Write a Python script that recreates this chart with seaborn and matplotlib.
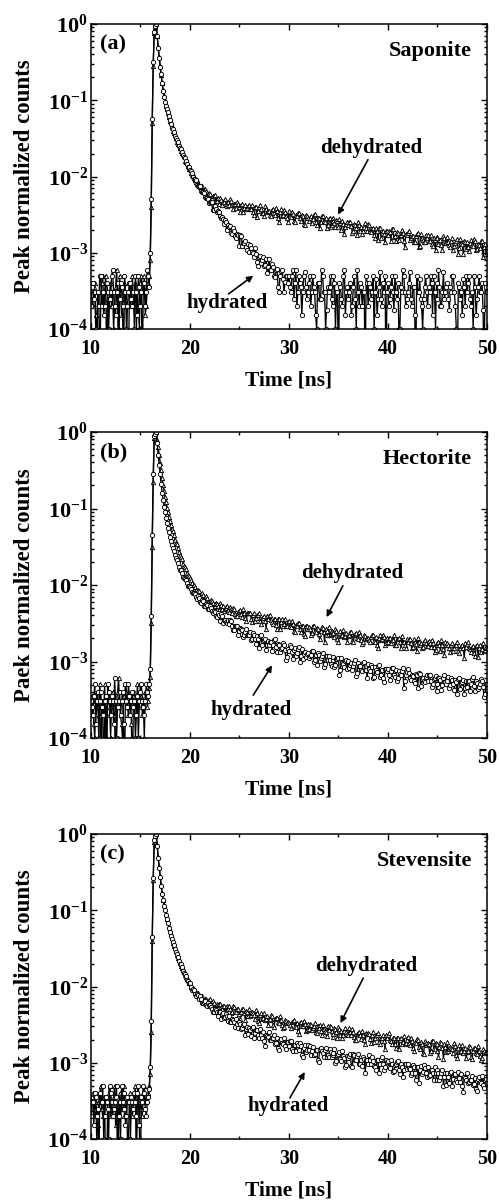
import numpy as np
import pandas as pd
import matplotlib
matplotlib.use("Agg")
import matplotlib.pyplot as plt
import seaborn as sns
from matplotlib.ticker import MultipleLocator, LogLocator, FuncFormatter, NullFormatter

# ------------- data: log10 of peak-normalized counts -------------
# even channels: 10.0, 10.2, ..., 50.0 ns ; odd channels: 10.1, 10.3, ..., 49.9 ns
TIME_EVEN = np.round(10 + 0.2 * np.arange(201), 1)
TIME_ODD = np.round(10.1 + 0.2 * np.arange(200), 1)

SAP_DEH = [
    -3.52, -3.70, -3.40, -4.00, -3.52, -3.70, -3.30, -3.52, -4.60, -3.70,
    -3.40, -3.52, -3.70, -3.22, -4.00, -3.52, -3.70, -3.40, -3.52, -4.60,
    -3.70, -3.30, -3.52, -4.00, -3.70, -3.40, -3.52, -3.30, -3.70, -3.40,
    -3.10, -1.30, -0.12, 0.00, -0.30, -0.55, -0.78, -0.95, -1.07, -1.17,
    -1.27, -1.34, -1.43, -1.49, -1.57, -1.62, -1.69, -1.73, -1.81, -1.85,
    -1.90, -1.98, -2.00, -2.07, -2.08, -2.14, -2.13, -2.20, -2.19, -2.25,
    -2.23, -2.28, -2.26, -2.32, -2.28, -2.28, -2.37, -2.33, -2.36, -2.33,
    -2.37, -2.32, -2.42, -2.36, -2.34, -2.40, -2.37, -2.46, -2.38, -2.41,
    -2.37, -2.42, -2.47, -2.40, -2.53, -2.40, -2.43, -2.48, -2.39, -2.47,
    -2.45, -2.52, -2.42, -2.50, -2.45, -2.60, -2.43, -2.50, -2.46, -2.55,
    -2.45, -2.53, -2.49, -2.59, -2.52, -2.48, -2.58, -2.52, -2.64, -2.52,
    -2.58, -2.52, -2.56, -2.49, -2.63, -2.55, -2.59, -2.52, -2.59, -2.67,
    -2.56, -2.66, -2.54, -2.61, -2.57, -2.66, -2.61, -2.58, -2.75, -2.62,
    -2.64, -2.60, -2.74, -2.62, -2.67, -2.59, -2.71, -2.75, -2.66, -2.68,
    -2.62, -2.71, -2.69, -2.77, -2.68, -2.83, -2.68, -2.74, -2.76, -2.72,
    -2.77, -2.73, -2.69, -2.79, -2.85, -2.74, -2.78, -2.70, -2.85, -2.75,
    -2.74, -2.83, -2.78, -2.86, -2.78, -2.74, -2.91, -2.81, -2.86, -2.77,
    -2.77, -2.84, -2.89, -2.81, -2.96, -2.80, -2.83, -2.90, -2.78, -2.87,
    -2.79, -2.90, -2.84, -2.96, -2.87, -2.82, -2.94, -2.87, -3.01, -2.86,
    -2.86, -2.98, -2.83, -2.91, -2.85, -2.95, -2.90, -2.85, -3.06, -2.89,
    -2.92,
]
SAP_DEH_ODD = [
    -3.60, -3.45, -3.82, -3.52, -4.60, -3.40, -3.70, -3.30, -3.60, -3.52,
    -3.70, -4.00, -3.45, -3.52, -3.30, -3.82, -3.52, -3.60, -4.60, -3.40,
    -3.52, -3.70, -3.40, -3.60, -4.00, -3.30, -3.52, -3.82, -3.45, -3.30,
    -2.40, -0.55, -0.04, -0.16, -0.43, -0.67, -0.87, -1.01, -1.12, -1.22,
    -1.29, -1.40, -1.45, -1.55, -1.58, -1.67, -1.70, -1.79, -1.82, -1.90,
    -1.95, -1.97, -2.05, -2.05, -2.13, -2.12, -2.19, -2.17, -2.25, -2.21,
    -2.28, -2.26, -2.24, -2.32, -2.36, -2.31, -2.34, -2.30, -2.39, -2.33,
    -2.30, -2.38, -2.36, -2.41, -2.36, -2.46, -2.36, -2.41, -2.42, -2.39,
    -2.42, -2.38, -2.51, -2.40, -2.45, -2.38, -2.48, -2.52, -2.43, -2.45,
    -2.50, -2.44, -2.48, -2.41, -2.55, -2.47, -2.52, -2.44, -2.52, -2.59,
    -2.52, -2.46, -2.58, -2.51, -2.48, -2.55, -2.51, -2.62, -2.51, -2.55,
    -2.54, -2.61, -2.51, -2.59, -2.54, -2.68, -2.52, -2.58, -2.55, -2.63,
    -2.55, -2.63, -2.58, -2.66, -2.58, -2.56, -2.70, -2.62, -2.66, -2.59,
    -2.59, -2.65, -2.71, -2.63, -2.77, -2.63, -2.66, -2.72, -2.61, -2.71,
    -2.63, -2.73, -2.68, -2.80, -2.71, -2.68, -2.80, -2.72, -2.86, -2.72,
    -2.72, -2.84, -2.69, -2.78, -2.73, -2.83, -2.77, -2.74, -2.92, -2.77,
    -2.71, -2.81, -2.78, -2.86, -2.76, -2.93, -2.76, -2.83, -2.86, -2.80,
    -2.85, -2.77, -2.91, -2.83, -2.79, -2.88, -2.83, -2.96, -2.81, -2.87,
    -2.86, -2.93, -2.81, -2.91, -2.85, -3.01, -2.82, -2.89, -2.84, -2.95,
    -2.93, -2.87, -2.90, -2.82, -2.97, -2.89, -2.94, -2.84, -2.92, -3.02,
]

SAP_HYD = [
    -3.70, -3.40, -3.52, -4.60, -3.70, -3.30, -3.52, -3.70, -3.40, -4.00,
    -3.52, -3.22, -3.70, -3.52, -4.60, -3.40, -3.70, -3.30, -4.00, -3.52,
    -3.40, -3.70, -4.00, -3.52, -3.30, -3.70, -4.60, -3.40, -3.52, -3.30,
    -3.00, -1.25, -0.10, 0.00, -0.31, -0.56, -0.77, -0.96, -1.08, -1.16,
    -1.26, -1.36, -1.42, -1.50, -1.55, -1.63, -1.68, -1.75, -1.79, -1.87,
    -1.92, -1.96, -2.03, -2.05, -2.12, -2.13, -2.20, -2.21, -2.28, -2.29,
    -2.34, -2.34, -2.44, -2.43, -2.45, -2.52, -2.53, -2.62, -2.59, -2.65,
    -2.66, -2.74, -2.68, -2.78, -2.75, -2.91, -2.78, -2.87, -2.85, -2.96,
    -2.99, -2.94, -3.00, -2.94, -3.12, -3.05, -3.13, -3.05, -3.16, -3.27,
    -3.08, -3.22, -3.19, -3.32, -3.21, -3.52, -3.24, -3.34, -3.38, -3.31,
    -3.30, -3.52, -3.22, -3.40, -3.70, -3.30, -3.45, -3.52, -3.25, -3.60,
    -3.40, -3.70, -3.30, -3.52, -4.00, -3.40, -3.60, -3.30, -3.52, -3.75,
    -3.52, -3.30, -3.70, -3.40, -3.52, -4.60, -3.45, -3.70, -3.22, -3.52,
    -3.60, -3.40, -3.70, -3.30, -4.00, -3.52, -3.40, -3.70, -3.52, -3.30,
    -3.70, -3.45, -3.52, -4.00, -3.35, -3.60, -3.25, -3.70, -3.52, -4.60,
    -3.40, -3.60, -3.30, -3.75, -3.52, -3.40, -4.00, -3.52, -3.30, -3.70,
    -3.52, -3.25, -3.70, -3.45, -4.60, -3.52, -3.35, -3.70, -3.60, -3.30,
    -3.70, -3.52, -3.40, -3.30, -4.00, -3.60, -3.45, -3.70, -3.25, -3.52,
    -3.40, -3.75, -3.52, -3.30, -3.70, -4.60, -3.45, -3.52, -3.35, -3.70,
    -3.52, -3.30, -3.70, -4.00, -3.45, -3.60, -3.30, -3.52, -3.75, -3.40,
    -3.52,
]
SAP_HYD_ODD = [
    -3.45, -3.60, -4.00, -3.52, -3.30, -3.70, -3.82, -3.40, -3.52, -3.60,
    -3.30, -3.52, -3.82, -3.40, -3.60, -3.45, -4.60, -3.52, -3.70, -3.40,
    -3.60, -3.52, -3.30, -3.82, -3.45, -3.52, -3.40, -3.70, -3.22, -3.45,
    -2.30, -0.50, -0.03, -0.16, -0.44, -0.66, -0.88, -1.02, -1.11, -1.21,
    -1.31, -1.38, -1.47, -1.52, -1.60, -1.64, -1.72, -1.76, -1.84, -1.88,
    -1.93, -2.01, -2.03, -2.11, -2.12, -2.19, -2.20, -2.27, -2.28, -2.35,
    -2.34, -2.44, -2.39, -2.46, -2.47, -2.55, -2.56, -2.57, -2.70, -2.64,
    -2.65, -2.75, -2.72, -2.81, -2.77, -2.77, -2.91, -2.87, -2.93, -2.88,
    -2.90, -2.99, -3.06, -3.01, -3.17, -3.04, -3.09, -3.17, -3.08, -3.19,
    -3.22, -3.15, -3.30, -3.22, -3.45, -3.30, -3.22, -3.52, -3.30, -3.40,
    -3.45, -3.30, -3.60, -3.22, -3.52, -3.40, -3.82, -3.30, -3.45, -3.52,
    -3.30, -3.52, -3.45, -3.82, -3.40, -3.60, -3.22, -3.52, -4.00, -3.45,
    -3.45, -3.60, -3.30, -4.00, -3.52, -3.40, -3.60, -3.30, -3.82, -3.45,
    -3.52, -3.82, -3.45, -3.60, -3.22, -3.70, -3.45, -3.52, -4.60, -3.40,
    -3.40, -3.60, -3.30, -3.52, -3.82, -3.45, -3.60, -3.40, -3.30, -3.52,
    -3.70, -3.45, -3.52, -3.30, -3.60, -4.00, -3.45, -3.22, -3.52, -3.60,
    -3.40, -3.60, -3.45, -3.82, -3.30, -3.52, -3.60, -4.00, -3.45, -3.52,
    -3.45, -3.30, -3.82, -3.52, -3.40, -3.22, -3.70, -3.52, -3.60, -3.45,
    -3.60, -3.45, -3.30, -3.52, -4.00, -3.40, -3.60, -3.82, -3.45, -3.30,
    -3.40, -3.60, -3.52, -3.30, -3.82, -3.45, -3.52, -3.40, -4.60, -3.45,
]

HEC_DEH = [
    -3.70, -3.52, -4.00, -3.40, -3.70, -4.60, -3.52, -3.30, -3.70, -3.52,
    -4.00, -3.40, -3.70, -3.52, -3.22, -3.70, -4.00, -3.52, -3.40, -3.70,
    -3.52, -4.60, -3.40, -3.70, -3.52, -3.30, -3.70, -4.00, -3.40, -3.52,
    -3.20, -1.50, -0.08, 0.00, -0.20, -0.40, -0.60, -0.77, -0.92, -1.05,
    -1.16, -1.27, -1.34, -1.45, -1.51, -1.61, -1.66, -1.75, -1.79, -1.87,
    -1.91, -1.98, -2.00, -2.06, -2.07, -2.13, -2.11, -2.18, -2.15, -2.22,
    -2.23, -2.21, -2.29, -2.23, -2.27, -2.24, -2.31, -2.34, -2.30, -2.32,
    -2.35, -2.32, -2.30, -2.38, -2.41, -2.34, -2.38, -2.32, -2.43, -2.36,
    -2.36, -2.44, -2.39, -2.47, -2.39, -2.37, -2.51, -2.43, -2.47, -2.40,
    -2.41, -2.46, -2.51, -2.45, -2.57, -2.45, -2.48, -2.53, -2.44, -2.53,
    -2.47, -2.55, -2.51, -2.61, -2.54, -2.50, -2.61, -2.54, -2.67, -2.54,
    -2.55, -2.65, -2.53, -2.60, -2.56, -2.64, -2.60, -2.56, -2.74, -2.60,
    -2.55, -2.64, -2.61, -2.68, -2.60, -2.74, -2.60, -2.65, -2.68, -2.63,
    -2.67, -2.61, -2.73, -2.66, -2.63, -2.70, -2.66, -2.77, -2.66, -2.70,
    -2.69, -2.75, -2.65, -2.73, -2.68, -2.82, -2.65, -2.71, -2.68, -2.76,
    -2.75, -2.69, -2.72, -2.66, -2.79, -2.71, -2.75, -2.67, -2.75, -2.82,
    -2.75, -2.70, -2.83, -2.71, -2.77, -2.69, -2.79, -2.82, -2.74, -2.76,
    -2.80, -2.76, -2.72, -2.81, -2.85, -2.76, -2.79, -2.72, -2.84, -2.75,
    -2.76, -2.83, -2.78, -2.86, -2.78, -2.74, -2.89, -2.80, -2.83, -2.76,
    -2.77, -2.82, -2.88, -2.80, -2.93, -2.79, -2.82, -2.87, -2.76, -2.85,
    -2.83,
]
HEC_DEH_ODD = [
    -3.45, -3.82, -3.52, -3.60, -3.30, -3.52, -3.70, -4.00, -3.45, -3.60,
    -3.52, -3.60, -4.60, -3.40, -3.52, -3.82, -3.45, -3.30, -3.60, -3.52,
    -3.82, -3.45, -3.52, -3.30, -3.60, -3.45, -3.52, -3.40, -3.60, -3.35,
    -2.50, -0.65, -0.03, -0.10, -0.30, -0.50, -0.69, -0.85, -0.99, -1.11,
    -1.22, -1.30, -1.41, -1.47, -1.57, -1.63, -1.72, -1.76, -1.84, -1.88,
    -1.94, -2.01, -2.02, -2.09, -2.08, -2.14, -2.13, -2.19, -2.17, -2.23,
    -2.20, -2.24, -2.27, -2.25, -2.33, -2.26, -2.28, -2.32, -2.27, -2.33,
    -2.29, -2.36, -2.32, -2.41, -2.35, -2.33, -2.42, -2.36, -2.47, -2.37,
    -2.37, -2.48, -2.36, -2.43, -2.39, -2.47, -2.43, -2.40, -2.57, -2.44,
    -2.39, -2.48, -2.45, -2.52, -2.45, -2.58, -2.45, -2.51, -2.53, -2.49,
    -2.54, -2.47, -2.60, -2.52, -2.50, -2.57, -2.53, -2.64, -2.53, -2.57,
    -2.57, -2.63, -2.54, -2.61, -2.57, -2.71, -2.55, -2.61, -2.58, -2.66,
    -2.65, -2.60, -2.63, -2.57, -2.70, -2.63, -2.67, -2.59, -2.67, -2.74,
    -2.66, -2.62, -2.75, -2.64, -2.69, -2.61, -2.72, -2.75, -2.67, -2.69,
    -2.72, -2.68, -2.65, -2.74, -2.78, -2.69, -2.72, -2.65, -2.78, -2.69,
    -2.69, -2.76, -2.72, -2.79, -2.71, -2.69, -2.82, -2.74, -2.78, -2.71,
    -2.71, -2.76, -2.81, -2.74, -2.86, -2.74, -2.76, -2.81, -2.72, -2.80,
    -2.73, -2.81, -2.76, -2.87, -2.79, -2.75, -2.86, -2.79, -2.91, -2.78,
    -2.78, -2.88, -2.76, -2.83, -2.78, -2.86, -2.82, -2.78, -2.95, -2.81,
    -2.75, -2.84, -2.81, -2.89, -2.80, -2.94, -2.79, -2.84, -2.86, -2.81,
]

HEC_HYD = [
    -3.52, -3.70, -3.30, -3.52, -4.00, -3.40, -3.70, -3.52, -4.60, -3.40,
    -3.70, -3.52, -3.22, -4.00, -3.52, -3.70, -3.40, -4.60, -3.52, -3.30,
    -3.70, -3.40, -3.52, -3.70, -4.00, -3.40, -3.52, -3.70, -3.30, -3.45,
    -3.10, -1.35, -0.05, 0.00, -0.30, -0.55, -0.80, -0.98, -1.12, -1.25,
    -1.37, -1.48, -1.55, -1.65, -1.71, -1.80, -1.84, -1.91, -1.94, -2.01,
    -2.03, -2.09, -2.10, -2.16, -2.15, -2.22, -2.20, -2.27, -2.25, -2.31,
    -2.27, -2.34, -2.34, -2.40, -2.37, -2.47, -2.41, -2.46, -2.49, -2.47,
    -2.51, -2.47, -2.59, -2.54, -2.53, -2.60, -2.58, -2.68, -2.61, -2.65,
    -2.65, -2.72, -2.63, -2.71, -2.67, -2.82, -2.66, -2.73, -2.70, -2.79,
    -2.79, -2.74, -2.78, -2.71, -2.87, -2.79, -2.84, -2.76, -2.85, -2.94,
    -2.86, -2.81, -2.97, -2.83, -2.89, -2.81, -2.93, -2.97, -2.88, -2.90,
    -2.95, -2.91, -2.86, -2.98, -3.04, -2.92, -2.96, -2.89, -3.03, -2.93,
    -2.93, -3.03, -2.98, -3.07, -2.97, -2.95, -3.11, -3.02, -3.07, -2.98,
    -2.99, -3.05, -3.11, -3.02, -3.19, -3.02, -3.06, -3.12, -3.00, -3.11,
    -3.03, -3.13, -3.07, -3.20, -3.11, -3.06, -3.20, -3.11, -3.27, -3.10,
    -3.10, -3.24, -3.08, -3.18, -3.11, -3.22, -3.16, -3.12, -3.34, -3.17,
    -3.10, -3.22, -3.18, -3.26, -3.16, -3.34, -3.16, -3.23, -3.26, -3.20,
    -3.26, -3.17, -3.33, -3.23, -3.19, -3.29, -3.22, -3.37, -3.22, -3.27,
    -3.26, -3.34, -3.21, -3.30, -3.24, -3.43, -3.21, -3.28, -3.24, -3.34,
    -3.33, -3.25, -3.29, -3.20, -3.38, -3.28, -3.33, -3.23, -3.33, -3.42,
    -3.30,
]
HEC_HYD_ODD = [
    -3.60, -3.45, -3.82, -3.40, -3.52, -3.60, -4.60, -3.45, -3.30, -3.52,
    -3.45, -3.82, -3.52, -3.60, -3.40, -3.52, -3.82, -3.30, -3.60, -3.45,
    -3.52, -3.60, -4.00, -3.45, -3.52, -3.30, -3.60, -3.52, -3.40, -3.30,
    -2.40, -0.55, -0.02, -0.14, -0.43, -0.68, -0.89, -1.05, -1.19, -1.31,
    -1.43, -1.51, -1.61, -1.67, -1.77, -1.81, -1.89, -1.92, -1.98, -2.01,
    -2.05, -2.11, -2.12, -2.18, -2.17, -2.23, -2.21, -2.28, -2.26, -2.32,
    -2.30, -2.37, -2.35, -2.42, -2.39, -2.38, -2.50, -2.46, -2.50, -2.46,
    -2.46, -2.53, -2.59, -2.54, -2.66, -2.56, -2.59, -2.66, -2.58, -2.66,
    -2.61, -2.70, -2.66, -2.77, -2.70, -2.67, -2.78, -2.72, -2.85, -2.73,
    -2.74, -2.86, -2.72, -2.81, -2.77, -2.87, -2.82, -2.79, -2.98, -2.84,
    -2.78, -2.88, -2.85, -2.93, -2.84, -3.00, -2.84, -2.90, -2.94, -2.89,
    -2.93, -2.86, -3.01, -2.92, -2.89, -2.99, -2.93, -3.07, -2.93, -2.98,
    -2.98, -3.06, -2.94, -3.04, -2.97, -3.17, -2.96, -3.03, -2.99, -3.10,
    -3.09, -3.02, -3.06, -2.98, -3.15, -3.06, -3.11, -3.02, -3.11, -3.21,
    -3.10, -3.05, -3.22, -3.07, -3.14, -3.04, -3.17, -3.22, -3.10, -3.13,
    -3.18, -3.13, -3.09, -3.20, -3.26, -3.13, -3.18, -3.09, -3.26, -3.14,
    -3.15, -3.24, -3.19, -3.28, -3.18, -3.15, -3.32, -3.22, -3.27, -3.18,
    -3.18, -3.25, -3.30, -3.21, -3.38, -3.21, -3.24, -3.31, -3.18, -3.29,
    -3.20, -3.31, -3.24, -3.37, -3.27, -3.23, -3.36, -3.27, -3.42, -3.25,
    -3.25, -3.39, -3.23, -3.32, -3.25, -3.36, -3.30, -3.25, -3.47, -3.29,
]

STE_DEH = [
    -3.52, -3.40, -3.70, -4.00, -3.52, -3.30, -3.70, -3.52, -4.60, -3.40,
    -3.70, -3.52, -3.30, -3.70, -4.00, -3.52, -3.40, -3.70, -3.52, -4.00,
    -3.40, -3.70, -3.52, -4.60, -3.40, -3.52, -3.70, -3.30, -3.52, -3.40,
    -3.15, -1.40, -0.10, 0.00, -0.30, -0.55, -0.78, -0.93, -1.05, -1.16,
    -1.27, -1.36, -1.47, -1.53, -1.63, -1.68, -1.76, -1.80, -1.88, -1.91,
    -1.96, -2.02, -2.04, -2.10, -2.09, -2.15, -2.13, -2.19, -2.16, -2.22,
    -2.17, -2.23, -2.21, -2.28, -2.24, -2.23, -2.29, -2.25, -2.34, -2.27,
    -2.26, -2.35, -2.26, -2.32, -2.29, -2.36, -2.33, -2.30, -2.44, -2.34,
    -2.29, -2.38, -2.35, -2.42, -2.35, -2.48, -2.35, -2.41, -2.44, -2.39,
    -2.44, -2.38, -2.50, -2.43, -2.41, -2.48, -2.44, -2.55, -2.44, -2.48,
    -2.48, -2.54, -2.45, -2.52, -2.48, -2.62, -2.46, -2.52, -2.49, -2.57,
    -2.56, -2.51, -2.54, -2.48, -2.61, -2.54, -2.58, -2.51, -2.58, -2.65,
    -2.57, -2.53, -2.66, -2.55, -2.60, -2.53, -2.63, -2.67, -2.58, -2.60,
    -2.63, -2.60, -2.56, -2.66, -2.70, -2.61, -2.64, -2.58, -2.70, -2.61,
    -2.61, -2.69, -2.64, -2.73, -2.64, -2.61, -2.76, -2.68, -2.71, -2.64,
    -2.64, -2.70, -2.75, -2.68, -2.81, -2.68, -2.70, -2.76, -2.65, -2.74,
    -2.66, -2.77, -2.71, -2.84, -2.74, -2.70, -2.82, -2.75, -2.89, -2.74,
    -2.74, -2.87, -2.71, -2.80, -2.74, -2.84, -2.79, -2.74, -2.95, -2.79,
    -2.73, -2.82, -2.80, -2.87, -2.78, -2.94, -2.77, -2.84, -2.87, -2.81,
    -2.86, -2.78, -2.92, -2.84, -2.80, -2.89, -2.84, -2.97, -2.82, -2.87,
    -2.86,
]
STE_DEH_ODD = [
    -3.45, -3.60, -3.52, -3.82, -3.40, -3.60, -3.45, -4.60, -3.52, -3.30,
    -3.60, -3.45, -3.82, -3.52, -3.40, -3.60, -3.30, -3.52, -4.00, -3.45,
    -3.60, -3.52, -3.30, -3.45, -3.82, -3.60, -3.40, -3.52, -3.45, -3.30,
    -2.60, -0.60, -0.03, -0.15, -0.43, -0.67, -0.86, -0.99, -1.11, -1.22,
    -1.31, -1.43, -1.49, -1.59, -1.65, -1.73, -1.77, -1.85, -1.89, -1.96,
    -2.00, -2.02, -2.09, -2.08, -2.14, -2.12, -2.18, -2.16, -2.21, -2.18,
    -2.22, -2.19, -2.27, -2.23, -2.23, -2.27, -2.25, -2.32, -2.26, -2.29,
    -2.29, -2.34, -2.27, -2.33, -2.29, -2.42, -2.29, -2.35, -2.32, -2.39,
    -2.39, -2.34, -2.38, -2.31, -2.45, -2.38, -2.42, -2.35, -2.43, -2.51,
    -2.43, -2.39, -2.53, -2.41, -2.47, -2.39, -2.50, -2.53, -2.45, -2.47,
    -2.51, -2.47, -2.44, -2.53, -2.58, -2.48, -2.52, -2.45, -2.58, -2.49,
    -2.49, -2.57, -2.52, -2.60, -2.52, -2.50, -2.63, -2.56, -2.59, -2.52,
    -2.52, -2.58, -2.62, -2.56, -2.68, -2.56, -2.58, -2.64, -2.54, -2.62,
    -2.55, -2.64, -2.59, -2.70, -2.62, -2.59, -2.69, -2.63, -2.75, -2.62,
    -2.62, -2.74, -2.59, -2.68, -2.63, -2.73, -2.67, -2.64, -2.82, -2.67,
    -2.61, -2.71, -2.68, -2.76, -2.67, -2.82, -2.67, -2.73, -2.75, -2.70,
    -2.74, -2.67, -2.81, -2.73, -2.69, -2.79, -2.73, -2.87, -2.72, -2.77,
    -2.76, -2.84, -2.72, -2.82, -2.76, -2.92, -2.73, -2.80, -2.75, -2.86,
    -2.85, -2.79, -2.82, -2.74, -2.90, -2.81, -2.86, -2.77, -2.85, -2.94,
    -2.85, -2.79, -2.95, -2.81, -2.87, -2.78, -2.91, -2.94, -2.84, -2.86,
]

STE_HYD = [
    -3.70, -3.52, -3.40, -3.70, -4.60, -3.52, -3.30, -3.70, -3.52, -4.00,
    -3.40, -3.70, -3.52, -3.30, -3.70, -4.00, -3.52, -3.40, -3.70, -3.52,
    -4.00, -3.52, -3.40, -3.70, -3.30, -4.60, -3.52, -3.40, -3.70, -3.45,
    -3.05, -1.35, -0.08, 0.00, -0.31, -0.56, -0.79, -0.94, -1.06, -1.17,
    -1.28, -1.38, -1.45, -1.55, -1.61, -1.70, -1.74, -1.82, -1.86, -1.93,
    -1.96, -2.04, -2.05, -2.12, -2.11, -2.12, -2.22, -2.20, -2.24, -2.22,
    -2.24, -2.29, -2.33, -2.31, -2.39, -2.33, -2.36, -2.41, -2.36, -2.43,
    -2.39, -2.47, -2.44, -2.53, -2.49, -2.47, -2.56, -2.51, -2.63, -2.53,
    -2.54, -2.65, -2.53, -2.61, -2.57, -2.67, -2.63, -2.60, -2.78, -2.65,
    -2.60, -2.70, -2.68, -2.76, -2.68, -2.83, -2.69, -2.75, -2.78, -2.73,
    -2.78, -2.71, -2.85, -2.77, -2.74, -2.83, -2.78, -2.92, -2.77, -2.83,
    -2.83, -2.90, -2.79, -2.88, -2.83, -2.99, -2.80, -2.87, -2.83, -2.93,
    -2.93, -2.86, -2.90, -2.82, -2.98, -2.89, -2.95, -2.85, -2.94, -3.03,
    -2.94, -2.88, -3.05, -2.90, -2.97, -2.88, -3.01, -3.04, -2.95, -2.97,
    -3.02, -2.97, -2.93, -3.04, -3.10, -2.97, -3.01, -2.93, -3.09, -2.97,
    -2.98, -3.07, -3.02, -3.11, -3.01, -2.98, -3.15, -3.05, -3.10, -3.01,
    -3.02, -3.08, -3.14, -3.05, -3.22, -3.05, -3.09, -3.15, -3.03, -3.14,
    -3.06, -3.16, -3.10, -3.23, -3.14, -3.09, -3.23, -3.14, -3.30, -3.13,
    -3.14, -3.27, -3.12, -3.21, -3.15, -3.25, -3.20, -3.15, -3.38, -3.20,
    -3.14, -3.25, -3.22, -3.29, -3.20, -3.37, -3.19, -3.26, -3.29, -3.22,
    -3.26,
]
STE_HYD_ODD = [
    -3.52, -3.82, -3.45, -3.60, -3.40, -3.52, -4.00, -3.45, -3.60, -3.30,
    -3.52, -3.60, -3.45, -4.60, -3.52, -3.30, -3.60, -3.82, -3.45, -3.52,
    -3.45, -3.60, -3.52, -3.40, -3.82, -3.45, -3.30, -3.60, -3.52, -3.35,
    -2.45, -0.58, -0.03, -0.16, -0.44, -0.68, -0.87, -1.00, -1.12, -1.23,
    -1.34, -1.41, -1.51, -1.57, -1.67, -1.71, -1.79, -1.83, -1.91, -1.95,
    -2.01, -2.03, -2.10, -2.10, -2.16, -2.16, -2.21, -2.19, -2.26, -2.24,
    -2.27, -2.33, -2.29, -2.34, -2.33, -2.43, -2.35, -2.40, -2.39, -2.45,
    -2.47, -2.43, -2.47, -2.43, -2.55, -2.49, -2.54, -2.49, -2.56, -2.62,
    -2.57, -2.54, -2.68, -2.57, -2.63, -2.56, -2.67, -2.71, -2.63, -2.66,
    -2.70, -2.67, -2.63, -2.74, -2.80, -2.70, -2.74, -2.67, -2.82, -2.73,
    -2.72, -2.82, -2.77, -2.85, -2.77, -2.74, -2.90, -2.81, -2.86, -2.77,
    -2.78, -2.85, -2.90, -2.83, -2.97, -2.82, -2.85, -2.92, -2.80, -2.90,
    -2.82, -2.93, -2.87, -3.00, -2.90, -2.86, -2.98, -2.91, -3.05, -2.91,
    -2.91, -3.04, -2.88, -2.97, -2.91, -3.02, -2.96, -2.92, -3.13, -2.97,
    -2.90, -3.02, -2.98, -3.05, -2.96, -3.13, -2.95, -3.02, -3.05, -2.99,
    -3.05, -2.97, -3.12, -3.03, -2.99, -3.09, -3.02, -3.18, -3.02, -3.08,
    -3.07, -3.16, -3.03, -3.13, -3.06, -3.26, -3.04, -3.12, -3.07, -3.18,
    -3.17, -3.10, -3.14, -3.06, -3.23, -3.14, -3.19, -3.10, -3.19, -3.29,
    -3.18, -3.13, -3.30, -3.15, -3.22, -3.12, -3.25, -3.30, -3.18, -3.22,
    -3.26, -3.22, -3.17, -3.28, -3.34, -3.21, -3.25, -3.17, -3.33, -3.21,
]

PANEL_TAGS = ["(a)", "(b)", "(c)"]
SAMPLES = ["Saponite", "Hectorite", "Stevensite"]
YLABELS = ["Peak normalized counts", "Paek normalized counts", "Peak normalized counts"]
SERIES_LABELS = ["dehydrated", "hydrated"]

# ---------------- styling ----------------
sns.set_theme(style="ticks")
plt.rcParams.update({
    "font.family": ["Liberation Serif", "DejaVu Serif"],
    "font.weight": "bold",
    "axes.labelweight": "bold",
    "mathtext.fontset": "custom",
    "mathtext.rm": "Liberation Serif:bold",
    "mathtext.bf": "Liberation Serif:bold",
    "mathtext.it": "Liberation Serif:bold:italic",
    "axes.edgecolor": "black",
    "axes.linewidth": 1.1,
    "xtick.color": "black",
    "ytick.color": "black",
    "text.color": "black",
    "axes.labelcolor": "black",
})

fig = plt.figure(figsize=(4.99, 12.0), dpi=100)
positions = [
    [0.182, 0.7258, 0.794, 0.2542],
    [0.182, 0.3850, 0.794, 0.2550],
    [0.182, 0.0508, 0.794, 0.2542],
]

# annotation layout: (text_x, text_logy, start_x, start_logy, tip_x, tip_logy)
ANNOT = [
    [(38.3, -1.63, 37.98, -1.78, 34.95, -2.50), (23.8, -3.66, 23.9, -3.54, 26.4, -3.30)],
    [(36.4, -1.84, 35.45, -2.01, 33.8, -2.42), (26.2, -3.63, 26.4, -3.44, 28.3, -3.05)],
    [(37.8, -1.73, 37.5, -1.89, 35.2, -2.48), (29.9, -3.57, 30.1, -3.46, 31.6, -3.12)],
]

data = [
    ((SAP_DEH, SAP_DEH_ODD), (SAP_HYD, SAP_HYD_ODD)),
    ((HEC_DEH, HEC_DEH_ODD), (HEC_HYD, HEC_HYD_ODD)),
    ((STE_DEH, STE_DEH_ODD), (STE_HYD, STE_HYD_ODD)),
]

for k in range(3):
    ax = fig.add_axes(positions[k])
    ax.set_yscale("log")
    for (even, odd), s, mk in zip(data[k], SERIES_LABELS, ["^", "o"]):
        sub = pd.DataFrame({
            "t": np.concatenate([TIME_EVEN, TIME_ODD]),
            "logy": np.concatenate([even, odd]),
        }).sort_values("t")
        sub["y"] = np.power(10.0, sub["logy"])
        sns.lineplot(data=sub, x="t", y="y", ax=ax, color="black", lw=0.95,
                     marker=mk, markersize=3.1, markerfacecolor="white",
                     markeredgecolor="black", markeredgewidth=0.65,
                     estimator=None, sort=False, legend=False)
    ax.set_xlim(10, 50)
    ax.set_ylim(1e-4, 1.0)
    ax.xaxis.set_major_locator(MultipleLocator(10))
    ax.xaxis.set_minor_locator(MultipleLocator(5))
    ax.yaxis.set_major_locator(LogLocator(base=10, numticks=10))
    ax.yaxis.set_minor_locator(LogLocator(base=10, subs=np.arange(2, 10), numticks=20))
    ax.yaxis.set_minor_formatter(NullFormatter())
    ax.yaxis.set_major_formatter(FuncFormatter(lambda v, p: r"$\mathbf{10^{%d}}$" % int(round(np.log10(v)))))
    ax.xaxis.set_major_formatter(FuncFormatter(lambda v, p: "%d" % v))
    ax.tick_params(which="both", direction="in", top=True, right=True, width=1.0)
    ax.tick_params(which="major", length=4.5)
    ax.tick_params(which="minor", length=2.5)
    ax.tick_params(axis="x", labelsize=14.5, pad=7.5)
    ax.tick_params(axis="y", labelsize=16, pad=2)

    ax.set_xlabel("Time [ns]", fontsize=15.5, fontweight="bold")
    ax.xaxis.set_label_coords(0.5, -0.135)
    ax.set_ylabel(YLABELS[k], fontsize=16.5, fontweight="bold")
    ax.yaxis.set_label_coords(-0.14, 0.5)

    ax.text(0.023, 0.933, PANEL_TAGS[k], transform=ax.transAxes, fontsize=16,
            fontweight="bold", ha="left", va="center")
    ax.text(0.962, 0.912, SAMPLES[k], transform=ax.transAxes, fontsize=16,
            fontweight="bold", ha="right", va="center")

    for (tx, ty, sx, sy, hx, hy), lab in zip(ANNOT[k], SERIES_LABELS):
        ax.text(tx, 10 ** ty, lab, fontsize=15, fontweight="bold", ha="center", va="center")
        ax.annotate("", xy=(hx, 10 ** hy), xytext=(sx, 10 ** sy),
                    arrowprops=dict(arrowstyle="-|>", color="black", lw=1.2,
                                    mutation_scale=9, shrinkA=0, shrinkB=0))

fig.savefig("out.png", dpi=100)
